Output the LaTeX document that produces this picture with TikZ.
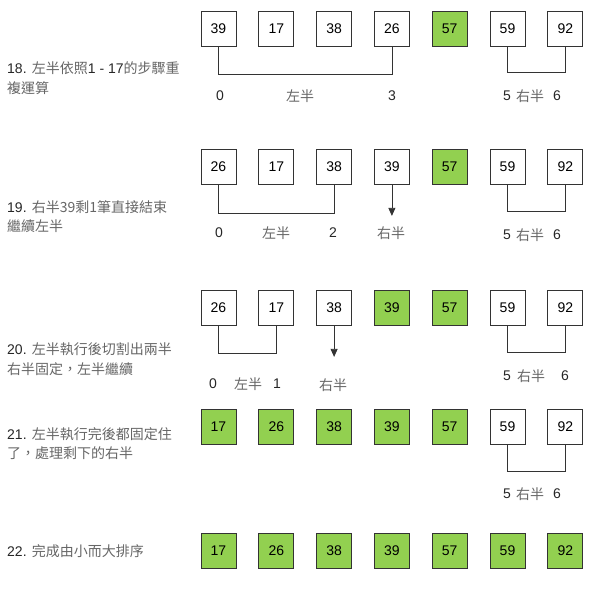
\documentclass[tikz,border=0pt]{standalone}
\usepackage{fontspec}
\setmainfont{Liberation Sans}
\newfontfamily\cjk{Noto Sans CJK TC}
\usetikzlibrary{arrows.meta,positioning}
\definecolor{okgreen}{RGB}{146,208,80}
\newcommand\zhtxt[1]{{\cjk\color{black!60}#1}}

\begin{document}
\begin{tikzpicture}[x=1pt,y=-1pt,
    cell/.style={draw=black!80,line width=0.8pt,minimum size=35pt,inner sep=0pt,
        font=\fontsize{14}{15}\selectfont},
    done/.style={cell,fill=okgreen},
    lbl/.style={inner sep=0pt,text=black!85,font=\fontsize{14}{15}\selectfont},
    stepnote/.style={anchor=west,align=left,inner sep=0pt,text=black!85,
        font=\fontsize{14}{19.5}\selectfont},
    link/.style={draw=black!80,line width=0.8pt},
    fall/.style={link,-{Triangle[length=8pt,width=7pt]}}]
    \useasboundingbox (0,0) rectangle (594,595);

    % row 18
    \foreach \v/\s [count=\i] in {39/cell,17/cell,38/cell,26/cell,57/done,59/cell,92/cell}
        \node[\s] (a\i) at ({160.7+57.8*\i},28.5) {\v};
    \draw[link] (a1.south) -- ++(0,28) -| (a4.south);
    \draw[link] (a6.south) -- ++(0,26) -| (a7.south);
    \node[lbl] (a0) at (220,96) {0};
    \node[lbl] (aL) at (300,96) {\zhtxt{左半}};
    \node[lbl] (a3) at (392,96) {3};
    \node[lbl] (a5) at (507,96) {5};
    \node[lbl] (aR) at (530,96) {\zhtxt{右半}};
    \node[lbl] (a6i) at (557,96) {6};
    \node[stepnote] (t18) at (7,78) {18. \zhtxt{左半依照}1 - 17\zhtxt{的步驟重}\\\zhtxt{複運算}};

    % row 19
    \foreach \v/\s [count=\i] in {26/cell,17/cell,38/cell,39/cell,57/done,59/cell,92/cell}
        \node[\s] (b\i) at ({160.7+57.8*\i},167) {\v};
    \draw[link] (b1.south) -- ++(0,28) -| (b3.south);
    \draw[link] (b6.south) -- ++(0,26) -| (b7.south);
    \draw[fall] (b4.south) -- ++(0,31);
    \node[lbl] (b0) at (219,233) {0};
    \node[lbl] (bL) at (276,233) {\zhtxt{左半}};
    \node[lbl] (b2) at (333,233) {2};
    \node[lbl] (bR4) at (391,233) {\zhtxt{右半}};
    \node[lbl] (b5) at (507,235) {5};
    \node[lbl] (bR) at (530,235) {\zhtxt{右半}};
    \node[lbl] (b6i) at (557,235) {6};
    \node[stepnote] (t19) at (7,216.5) {19. \zhtxt{右半39剩1筆直接結束}\\\zhtxt{繼續左半}};

    % row 20
    \foreach \v/\s [count=\i] in {26/cell,17/cell,38/cell,39/done,57/done,59/cell,92/cell}
        \node[\s] (c\i) at ({160.7+57.8*\i},308) {\v};
    \draw[link] (c1.south) -- ++(0,27) -| (c2.south);
    \draw[link] (c6.south) -- ++(0,26) -| (c7.south);
    \draw[fall] (c3.south) -- ++(0,31);
    \node[lbl] (c0) at (213,384) {0};
    \node[lbl] (cL) at (248,384) {\zhtxt{左半}};
    \node[lbl] (c1i) at (277,384) {1};
    \node[lbl] (cR3) at (333,385) {\zhtxt{右半}};
    \node[lbl] (c5) at (507,376) {5};
    \node[lbl] (cR) at (531,376) {\zhtxt{右半}};
    \node[lbl] (c6i) at (565,376) {6};
    \node[stepnote] (t20) at (7,359) {20. \zhtxt{左半執行後切割出兩半}\\\zhtxt{右半固定，左半繼續}};

    % row 21
    \foreach \v/\s [count=\i] in {17/done,26/done,38/done,39/done,57/done,59/cell,92/cell}
        \node[\s] (d\i) at ({160.7+57.8*\i},426.5) {\v};
    \draw[link] (d6.south) -- ++(0,27) -| (d7.south);
    \node[lbl] (d5) at (507,494) {5};
    \node[lbl] (dR) at (530,494) {\zhtxt{右半}};
    \node[lbl] (d6i) at (557,494) {6};
    \node[stepnote] (t21) at (7,443.5) {21. \zhtxt{左半執行完後都固定住}\\\zhtxt{了，處理剩下的右半}};

    % row 22
    \foreach \v [count=\i] in {17,26,38,39,57,59,92}
        \node[done] (e\i) at ({160.7+57.8*\i},551) {\v};
    \node[stepnote] (t22) at (7,551) {22. \zhtxt{完成由小而大排序}};
\end{tikzpicture}
\end{document}
